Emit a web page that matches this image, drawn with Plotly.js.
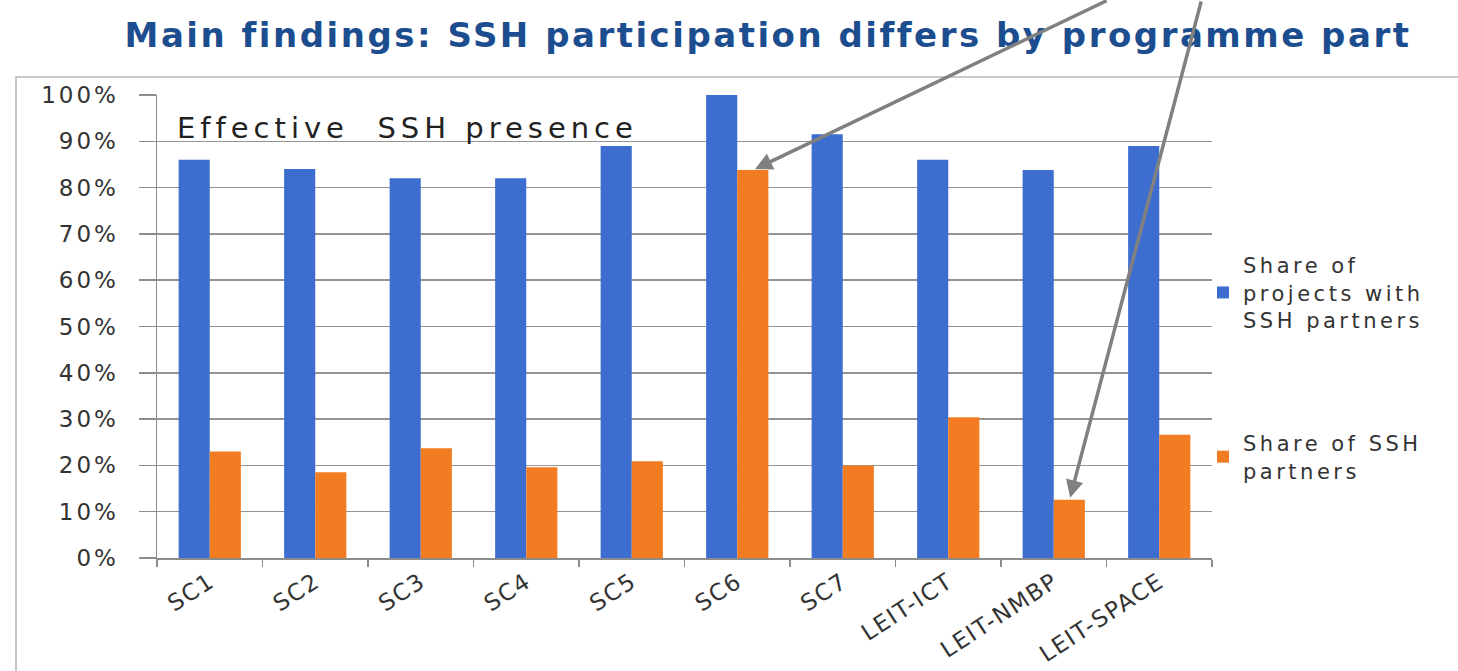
<!DOCTYPE html>
<html>
<head>
<meta charset="utf-8">
<script src="https://cdn.plot.ly/plotly-3.0.1.min.js"></script>
<style>
html,body{margin:0;padding:0;background:#fff;}
#chart{width:1458px;height:671px;}
text.gtitle{letter-spacing:2.5px;}
g.ytick text{letter-spacing:3px;}
g.xtick text{letter-spacing:1.5px;}
text.legendtext{letter-spacing:3.5px;}
text.annotation-text{letter-spacing:5px;}
</style>
</head>
<body>
<div id="chart"></div>
<script>
const categories = ['SC1','SC2','SC3','SC4','SC5','SC6','SC7','LEIT-ICT','LEIT-NMBP','LEIT-SPACE'];
const shareProjects = [0.86, 0.84, 0.82, 0.82, 0.89, 1.00, 0.915, 0.86, 0.838, 0.89];
const sharePartners = [0.23, 0.185, 0.237, 0.196, 0.209, 0.838, 0.20, 0.304, 0.126, 0.266];
const seriesNames = ['Share of<br>projects with<br>SSH partners', 'Share of SSH<br>partners'];
const yTicks = [0,0.1,0.2,0.3,0.4,0.5,0.6,0.7,0.8,0.9,1.0];
const titleText = 'Main findings: SSH participation differs by programme part';
const noteText = 'Effective  SSH presence';

const W = 1458, H = 671;
const M = {l:157, r:246, t:95, b:113};
const pw = W - M.l - M.r, ph = H - M.t - M.b;
const px = v => (v - M.l)/pw;          // pixel x -> paper
const py = v => (H - M.b - v)/ph;      // pixel y -> paper

const font = 'DejaVu Sans, Verdana, sans-serif';

const traces = [
  {type:'bar', x:categories, y:shareProjects, name:seriesNames[0], legendgroup:'a',
   marker:{color:'#3d6ecf'}},
  {type:'bar', x:categories, y:sharePartners, name:seriesNames[1], legendgroup:'b',
   marker:{color:'#f27c22'}}
];

const layout = {
  width:W, height:H,
  margin:M,
  paper_bgcolor:'#ffffff', plot_bgcolor:'#ffffff',
  barmode:'group', bargap:0.41, bargroupgap:0,
  font:{family:font, color:'#333'},
  title:{text:'<b>'+titleText+'</b>', x:px(768), xref:'paper', xanchor:'center', y:0.948, yanchor:'middle',
         font:{family:font, size:34, color:'#1b4d8f'}},
  xaxis:{type:'category', showgrid:false, showline:true, linecolor:'#8c8c8c', linewidth:1.5,
         ticks:'outside', tickson:'boundaries', ticklen:7, tickcolor:'#8c8c8c', tickwidth:1.5,
         tickangle:-33, tickfont:{family:font, size:23, color:'#333'}},
  yaxis:{range:[0,1], tickvals:yTicks, tickformat:'.0%', showgrid:true, gridcolor:'#949494', gridwidth:1.5,
         showline:true, linecolor:'#8c8c8c', linewidth:1.5, zeroline:false,
         ticks:'outside', ticklen:17, tickcolor:'#8c8c8c', tickwidth:1.5,
         ticklabelstandoff:15, tickfont:{family:font, size:23, color:'#333'}},
  legend:{x:px(1203), y:py(245), xanchor:'left', yanchor:'top', traceorder:'grouped', tracegroupgap:93,
          font:{family:font, size:21, color:'#333'}, bgcolor:'rgba(0,0,0,0)'},
  annotations:[
    {xref:'paper', yref:'paper', x:px(175), y:py(128), xanchor:'left', yanchor:'middle',
     text:noteText, showarrow:false, font:{family:font, size:29, color:'#222'}},
    {xref:'x', yref:'y', x:5.15, y:sharePartners[5], text:'', showarrow:true,
     arrowhead:2, arrowsize:1, arrowwidth:3.5, arrowcolor:'#808080', ax:355, ay:-175, standoff:2},
    {xref:'x', yref:'y', x:8.15, y:sharePartners[8], text:'', showarrow:true,
     arrowhead:2, arrowsize:1, arrowwidth:3.5, arrowcolor:'#808080', ax:132, ay:-505, standoff:2}
  ],
  shapes:[
    {type:'rect', xref:'paper', yref:'paper', x0:px(16), x1:px(1470), y0:py(690), y1:py(77),
     line:{color:'#c8c8c8', width:2}, fillcolor:'rgba(0,0,0,0)', layer:'below'}
  ],
  showlegend:true
};

Plotly.newPlot('chart', traces, layout, {displayModeBar:false, staticPlot:true});
</script>
</body>
</html>
